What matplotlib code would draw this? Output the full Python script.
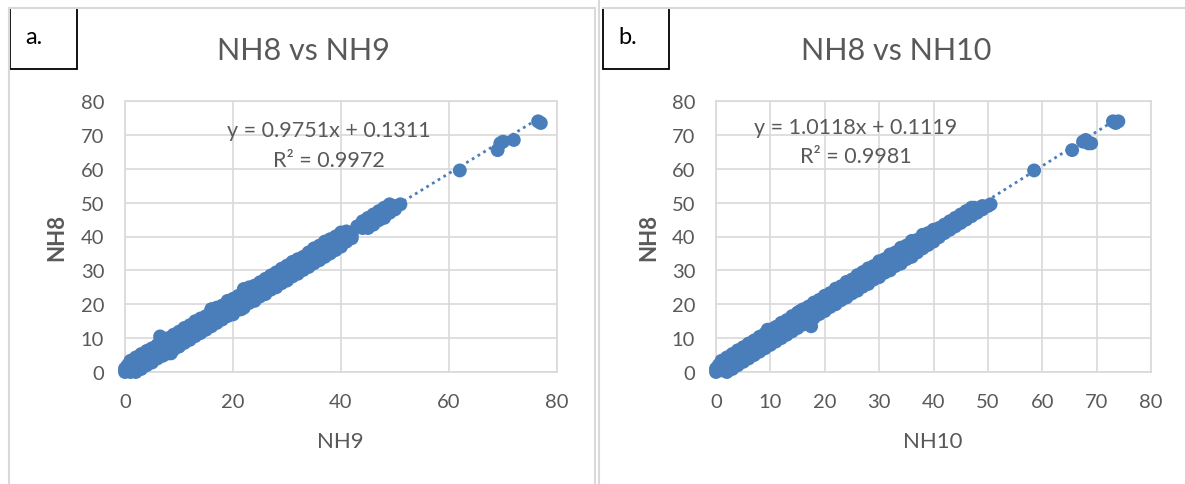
import matplotlib
matplotlib.use("Agg")
import matplotlib.pyplot as plt
from matplotlib.lines import Line2D
from matplotlib.patches import Rectangle
import numpy as np

plt.rcParams['font.family'] = ['Lato', 'DejaVu Sans']

# ---- data ----
# panel a: core of the point cloud
nh9_a = [0, 0, 0.5, 1, 1, 1.5, 2, 2, 3, 3, 4, 4, 4.5, 5, 5.5, 6, 6.5, 6.5, 7, 7.5,
         8, 8.5, 8.5, 9, 9.5, 10, 10.5, 11, 11.5, 12, 12.5, 13, 13.5, 14, 14.5, 15,
         15.5, 16, 16, 16.5, 17, 17.5, 18, 18.5, 19, 19.5, 20, 20.5, 21, 21.5, 21.5,
         22, 22.5, 23, 23.5, 24, 24.5, 25, 25.5, 26, 26.5, 27, 27.5, 28, 28.5, 29,
         29.5, 30, 30.5, 31, 32, 33, 34, 35, 36, 37, 37.5, 38, 39, 39.5, 40, 41, 42,
         44, 45, 45.5, 46, 47, 48, 49, 50, 51,
         62, 69, 69.5, 70, 72, 76.5, 77]
nh8_a = [0, 1, 2, 0, 1.5, 3, 0.8, 2.5, 1.8, 4, 3, 5, 6.5, 4, 6.5, 5, 10.5, 7.5, 6.5, 9,
         7, 5.5, 9.5, 8, 10.5, 9, 11, 10, 12, 11, 13, 12, 14, 12.5, 15, 14,
         16.5, 18.5, 15, 17, 16, 18.5, 16.5, 19, 18, 20.5, 19, 21, 20, 22, 18.5,
         21, 24.5, 22, 24.5, 23, 25, 23.5, 25.5, 25, 27, 25.5, 28, 27, 29, 28,
         30.5, 29, 31, 30, 31.5, 32, 33.5, 34, 35.5, 36.5, 37.5, 37, 38, 39.5, 39, 40.5, 40.5,
         42.5, 45, 43.5, 45.5, 46, 47.5, 48.5, 49, 49.5,
         59.5, 65.5, 67.5, 68, 68.5, 74, 73.5]
# panel a: upper edge of the cloud
nh9_a_hi = [1, 2, 3, 4, 5, 6, 7, 8, 9, 10, 11, 12, 13, 14, 15, 16, 17, 18, 19, 20,
            21, 22, 23, 24, 25, 26, 27, 28, 29, 30, 31, 32, 33, 34, 35, 36, 37, 38,
            39, 40, 41, 43, 44, 45, 46, 47, 48, 49]
nh8_a_hi = [3.3, 4.3, 5.3, 6.2, 7, 8, 9, 10, 11, 11.9, 13, 13.8, 15, 15.8, 16.5, 18.5,
            19, 19.6, 21, 21.6, 22.5, 24.5, 25, 25.5, 26.5, 27.5, 28.5, 29.4, 30.5,
            31.4, 32.5, 33.3, 34, 35.3, 36.5, 37.3, 38.5, 39.2, 40, 41.2, 41.5, 43,
            44.5, 45.5, 46.5, 47.5, 48.5, 49.5]
# panel a: lower edge of the cloud
nh9_a_lo = [2, 3, 4, 5, 6, 7, 8, 9, 10, 11, 12, 13, 14, 15, 16, 17, 18, 19, 20, 21,
            22, 23, 24, 25, 26, 27, 28, 29, 30, 31, 32, 33, 34, 35, 36, 37, 38, 39,
            40, 41, 42, 45, 46, 47, 48, 49, 50]
nh8_a_lo = [0, 0.9, 2, 2.8, 4, 4.8, 5.5, 6.6, 7.5, 8.6, 9.5, 10.6, 11.5, 12.5, 13.5,
            14.5, 15.5, 16.5, 17, 18.4, 19, 20.4, 21, 22.3, 23, 24.3, 25, 26.2, 27,
            28.2, 29, 30.1, 31, 32.1, 33, 34, 35, 36, 37, 38.5, 39.5, 42.5, 43.5,
            44.8, 45.5, 47, 48]

# panel b: core of the point cloud
nh10_b = [0, 0, 0.5, 1, 1, 1.5, 2, 2, 3, 3, 4, 4, 5, 5, 6, 6, 7, 7, 8, 8, 9, 9.5, 9,
          10, 10.5, 11, 11.5, 12, 12.5, 13, 13.5, 14, 14.5, 15, 15.5, 16, 16.5, 17,
          17.5, 17.5, 18, 18.5, 19, 19.5, 20, 20.5, 21, 21.5, 22, 22.5, 23, 24, 24.5,
          25, 26, 26.5, 27, 27.5, 28, 29, 29.5, 30, 31, 32, 33, 34, 35, 35.5, 36, 37,
          38, 38.5, 39, 40, 41, 42, 43, 43.5, 44, 45, 46, 46.5, 47.5, 48, 49, 50, 50.5,
          58.5, 65.5, 67.5, 68, 68.5, 69, 73, 73.5, 74]
nh8_b = [0, 1, 2, 0.5, 2, 3, 1.5, 3.5, 2.5, 4.5, 3.5, 5.5, 4.5, 6.5, 5.5, 7.5, 6.5, 8.5,
         7.5, 9.5, 8, 12.5, 10.5, 9.5, 12, 10.5, 13, 11.5, 14, 12.5, 15, 13, 16, 14.5,
         18, 15.5, 18.5, 16.5, 13.5, 19, 17.5, 20, 17.5, 21, 19.5, 22, 20.5, 23, 21.5,
         24, 22.5, 24, 25.5, 24.5, 26, 28, 26.5, 29.5, 28, 29.5, 31, 30, 31.5, 32,
         33.5, 34, 35.5, 37.5, 36, 37.5, 38, 40, 39.5, 40, 41.5, 42.5, 43.5, 44.5, 44,
         45, 46, 47.5, 48.5, 47.5, 49, 49, 49.5,
         59.5, 65.5, 68, 68.5, 67.5, 67.5, 74, 73.5, 74]
# panel b: upper edge of the cloud
nh10_b_hi = [1, 2, 3, 4, 5, 6, 7, 8, 9, 10, 11, 12, 13, 14, 15, 16, 17, 18, 19, 20,
             21, 22, 23, 24, 25, 26, 27, 28, 29, 30, 31, 32, 33, 34, 35, 36, 37, 38,
             39, 40, 41, 42, 43, 44, 45, 46, 47]
nh8_b_hi = [3.3, 4.3, 5.3, 6.4, 7.3, 8.4, 9.3, 10.4, 11.3, 12.5, 13.3, 14.5, 15.3,
            16.5, 17.5, 18.5, 19.3, 20.5, 21.3, 22.5, 23.3, 24.6, 25.3, 26.6, 27.3,
            28.6, 29.5, 30.6, 31.3, 32.7, 33.3, 34.7, 35.3, 36.7, 37.3, 38.7, 39,
            40.5, 41, 42, 42.5, 43.5, 44.5, 45.5, 46.5, 47.5, 48.5]
# panel b: lower edge of the cloud
nh10_b_lo = [2, 3, 4, 5, 6, 7, 8, 9, 10, 11, 12, 13, 14, 15, 16, 17, 18, 19, 20, 21,
             22, 23, 24, 25, 26, 27, 28, 29, 30, 31, 32, 33, 34, 35, 36, 37, 38, 39,
             40, 41, 42, 43, 44, 45, 46, 47, 48, 49]
nh8_b_lo = [0, 0.9, 2, 3, 4, 5, 6, 7, 8, 9, 10, 11, 12, 13, 14, 15.1, 16, 17.1, 18,
            19.2, 20, 21.2, 22, 23.2, 24, 25.2, 26, 27.3, 28, 29.3, 30, 31.3, 32, 33.3,
            34, 35.3, 36.5, 37.5, 38.5, 39.8, 41, 42, 43, 44, 45, 46, 47, 48]

titles = ["NH8 vs NH9", "NH8 vs NH10"]
xlabels = ["NH9", "NH10"]
ylabel = "NH8"
panel_tags = ["a.", "b."]
slopes = [0.9751, 1.0118]
intercepts = [0.1311, 0.1119]
r2 = [0.9972, 0.9981]
xticks = [[0, 20, 40, 60, 80], [0, 10, 20, 30, 40, 50, 60, 70, 80]]
yticks = [0, 10, 20, 30, 40, 50, 60, 70, 80]

W, H = 1185, 485
fig = plt.figure(figsize=(W / 100, H / 100), dpi=100)

def fx(px):
    return px / W

def fy(py):
    return 1 - py / H

BLUE = '#4a7ebb'
GRID = '#d9d9d9'
TXT = '#595959'

axes_px = [(125, 557), (716, 1151)]
top_px, bot_px = 102, 373
title_x = [303, 896]
eq_x = [329, 856]
eq_y = [(131, 161), (128, 157)]
xlab_x = [340, 933]
ylab_x = [57, 649]
tag_box = [(10, 77), (603, 669)]

data = [(nh9_a + nh9_a_hi + nh9_a_lo, nh8_a + nh8_a_hi + nh8_a_lo),
        (nh10_b + nh10_b_hi + nh10_b_lo, nh8_b + nh8_b_hi + nh8_b_lo)]

for i in range(2):
    l, r = axes_px[i]
    ax = fig.add_axes([fx(l), fy(bot_px), fx(r) - fx(l), fy(top_px) - fy(bot_px)])
    xs, ys = data[i]
    ax.scatter(xs, ys, s=100, color=BLUE, edgecolors='none', zorder=3, clip_on=False)
    xl = np.array([min(xs), max(xs)])
    ax.plot(xl, slopes[i] * xl + intercepts[i], color=BLUE, lw=2.0,
            linestyle=(0, (1, 1.4)), zorder=2)
    ax.set_xlim(0, 80)
    ax.set_ylim(0, 80)
    ax.set_xticks(xticks[i])
    ax.set_yticks(yticks)
    ax.grid(True, color=GRID, lw=1.2, zorder=0)
    ax.set_axisbelow(True)
    for sp in ax.spines.values():
        sp.set_color(GRID)
        sp.set_linewidth(1.2)
    ax.tick_params(length=0, labelsize=14.5, labelcolor=TXT)
    ax.tick_params(axis='y', pad=15)
    ax.tick_params(axis='x', pad=15)
    # texts
    fig.text(fx(title_x[i]), fy(51), titles[i], ha='center', va='center',
             fontsize=22, color=TXT)
    fig.text(fx(xlab_x[i]), fy(442), xlabels[i], ha='center', va='center',
             fontsize=16, color=TXT)
    fig.text(fx(ylab_x[i]), fy(237), ylabel, ha='center', va='center',
             fontsize=16, color=TXT, rotation=90, fontweight='bold')
    fig.text(fx(eq_x[i]), fy(eq_y[i][0]),
             f"y = {slopes[i]:.4f}x + {intercepts[i]:.4f}", ha='center', va='center',
             fontsize=15.5, color=TXT)
    fig.text(fx(eq_x[i]), fy(eq_y[i][1]), f"R² = {r2[i]:.4f}", ha='center',
             va='center', fontsize=15.5, color=TXT)
    # tag box
    bl, br = tag_box[i]
    fig.add_artist(Rectangle((fx(bl), fy(70)), fx(br) - fx(bl), fy(9) - fy(70),
                             transform=fig.transFigure, fill=False,
                             edgecolor='black', lw=1.3))
    fig.text(fx(bl + 15), fy(38), panel_tags[i], ha='left', va='center',
             fontsize=17, color='black')

# chart borders
border = '#d9d9d9'
lines = [((9, 9), (9, 485)), ((9, 595), (9, 9)), ((595, 595), (9, 485)),
         ((599, 599), (0, 485)), ((603, 1185), (9, 9))]
for (x0, x1), (y0, y1) in lines:
    fig.add_artist(Line2D([fx(x0), fx(x1)], [fy(y0), fy(y1)],
                          transform=fig.transFigure, color=border, lw=1.5))

fig.savefig('out.png', dpi=100, facecolor='white')
